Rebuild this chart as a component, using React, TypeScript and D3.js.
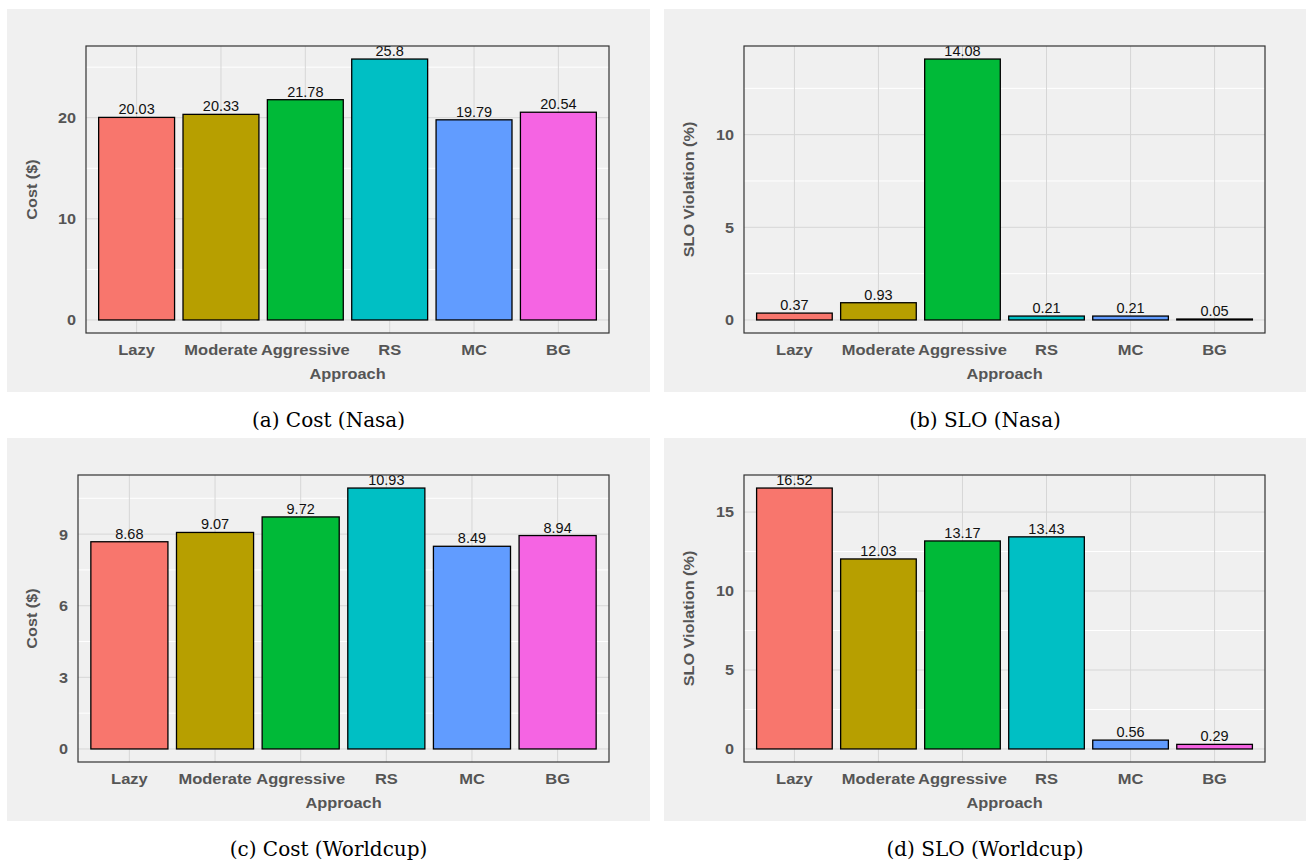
import React from 'react';
import * as d3 from 'd3';

// data
const categories = ['Lazy', 'Moderate', 'Aggressive', 'RS', 'MC', 'BG'];
const costNasa = [20.03, 20.33, 21.78, 25.8, 19.79, 20.54];
const sloNasa = [0.37, 0.93, 14.08, 0.21, 0.21, 0.05];
const costWorldcup = [8.68, 9.07, 9.72, 10.93, 8.49, 8.94];
const sloWorldcup = [16.52, 12.03, 13.17, 13.43, 0.56, 0.29];

const costNasaTicks = [0, 10, 20];
const sloNasaTicks = [0, 5, 10];
const costWorldcupTicks = [0, 3, 6, 9];
const sloWorldcupTicks = [0, 5, 10, 15];

const fills = ['#F8766D', '#B79F00', '#00BA38', '#00BFC4', '#619CFF', '#F564E3'];

const sans = '"Liberation Sans", Arial, sans-serif';

// the source image is a bit stretched sideways, so the bold labels are too
function Label({x, y, sx, anchor, children, rotate}: any) {
  const t = rotate
    ? `translate(${x},${y}) rotate(-90) scale(${sx},1)`
    : `translate(${x},${y}) scale(${sx},1)`;
  return (
    <text transform={t} textAnchor={anchor} fontFamily={sans} fontWeight="bold"
      fontSize={15} fill="#555555">
      {children}
    </text>
  );
}

type PanelProps = {
  x: number;
  y: number;
  w: number;
  left: number;
  values: number[];
  ticks: number[];
  yTitle: string;
  caption: string;
};

function Panel({x, y, w, left, values, ticks, yTitle, caption}: PanelProps) {
  const h = 383;
  const top = 37;
  const bottom = 324;
  const right = w - 41;

  const max = d3.max(values) as number;
  const yScale = d3.scaleLinear()
    .domain([-0.05 * max, 1.05 * max])
    .range([bottom, top]);

  const xScale = d3.scaleBand()
    .domain(categories)
    .range([left, right])
    .paddingInner(0.1)
    .paddingOuter(0.15);

  const step = ticks[1] - ticks[0];
  const [lo, hi] = yScale.domain();
  const minor = ticks.map(t => t + step / 2).filter(t => t > lo && t < hi);

  const cx = (c: string) => (xScale(c) as number) + xScale.bandwidth() / 2;

  return (
    <g transform={`translate(${x},${y})`}>
      <rect x={0} y={0} width={w} height={h} fill="#f0f0f0" />

      {/* grid */}
      {minor.map(t => (
        <line key={'m' + t} x1={left} x2={right} y1={yScale(t)} y2={yScale(t)}
          stroke="#ffffff" strokeWidth={1} />
      ))}
      {ticks.map(t => (
        <line key={'g' + t} x1={left} x2={right} y1={yScale(t)} y2={yScale(t)}
          stroke="#d6d6d6" strokeWidth={1} />
      ))}
      {categories.map(c => (
        <line key={'v' + c} x1={cx(c)} x2={cx(c)} y1={top} y2={bottom}
          stroke="#d6d6d6" strokeWidth={1} />
      ))}

      {/* bars */}
      {values.map((v, i) => (
        <rect key={categories[i]}
          x={xScale(categories[i])}
          y={yScale(v)}
          width={xScale.bandwidth()}
          height={yScale(0) - yScale(v)}
          fill={fills[i]}
          stroke="#000000"
          strokeWidth={1.3} />
      ))}
      {values.map((v, i) => (
        <text key={'l' + i} x={cx(categories[i])} y={yScale(v) - 3}
          textAnchor="middle" fontFamily={sans} fontSize={14.5} fill="#111111">
          {String(v)}
        </text>
      ))}

      <rect x={left} y={top} width={right - left} height={bottom - top}
        fill="none" stroke="#333333" strokeWidth={1.2} />

      {/* axes */}
      {ticks.map(t => (
        <Label key={'t' + t} x={left - 10} y={yScale(t) + 5.4} sx={1.08} anchor="end">
          {t}
        </Label>
      ))}
      {categories.map(c => (
        <Label key={'c' + c} x={cx(c)} y={bottom + 22} sx={1.1} anchor="middle">
          {c}
        </Label>
      ))}
      <Label x={(left + right) / 2} y={bottom + 46} sx={1.09} anchor="middle">
        Approach
      </Label>
      <Label x={30} y={(top + bottom) / 2} sx={1.08} anchor="middle" rotate>
        {yTitle}
      </Label>

      <text x={w / 2} y={h + 35} textAnchor="middle"
        fontFamily='"DejaVu Serif", serif' fontSize={20} fill="#000000">
        {caption}
      </text>
    </g>
  );
}

export default function App() {
  return (
    <svg width={1306} height={866}
      style={{position: 'absolute', left: 0, top: 0, display: 'block', background: '#ffffff'}}>
      <Panel x={7} y={9} w={643} left={79} values={costNasa} ticks={costNasaTicks}
        yTitle="Cost ($)" caption="(a) Cost (Nasa)" />
      <Panel x={664} y={9} w={642} left={80} values={sloNasa} ticks={sloNasaTicks}
        yTitle="SLO Violation (%)" caption="(b) SLO (Nasa)" />
      <Panel x={7} y={438} w={643} left={71} values={costWorldcup} ticks={costWorldcupTicks}
        yTitle="Cost ($)" caption="(c) Cost (Worldcup)" />
      <Panel x={664} y={438} w={642} left={80} values={sloWorldcup} ticks={sloWorldcupTicks}
        yTitle="SLO Violation (%)" caption="(d) SLO (Worldcup)" />
    </svg>
  );
}
